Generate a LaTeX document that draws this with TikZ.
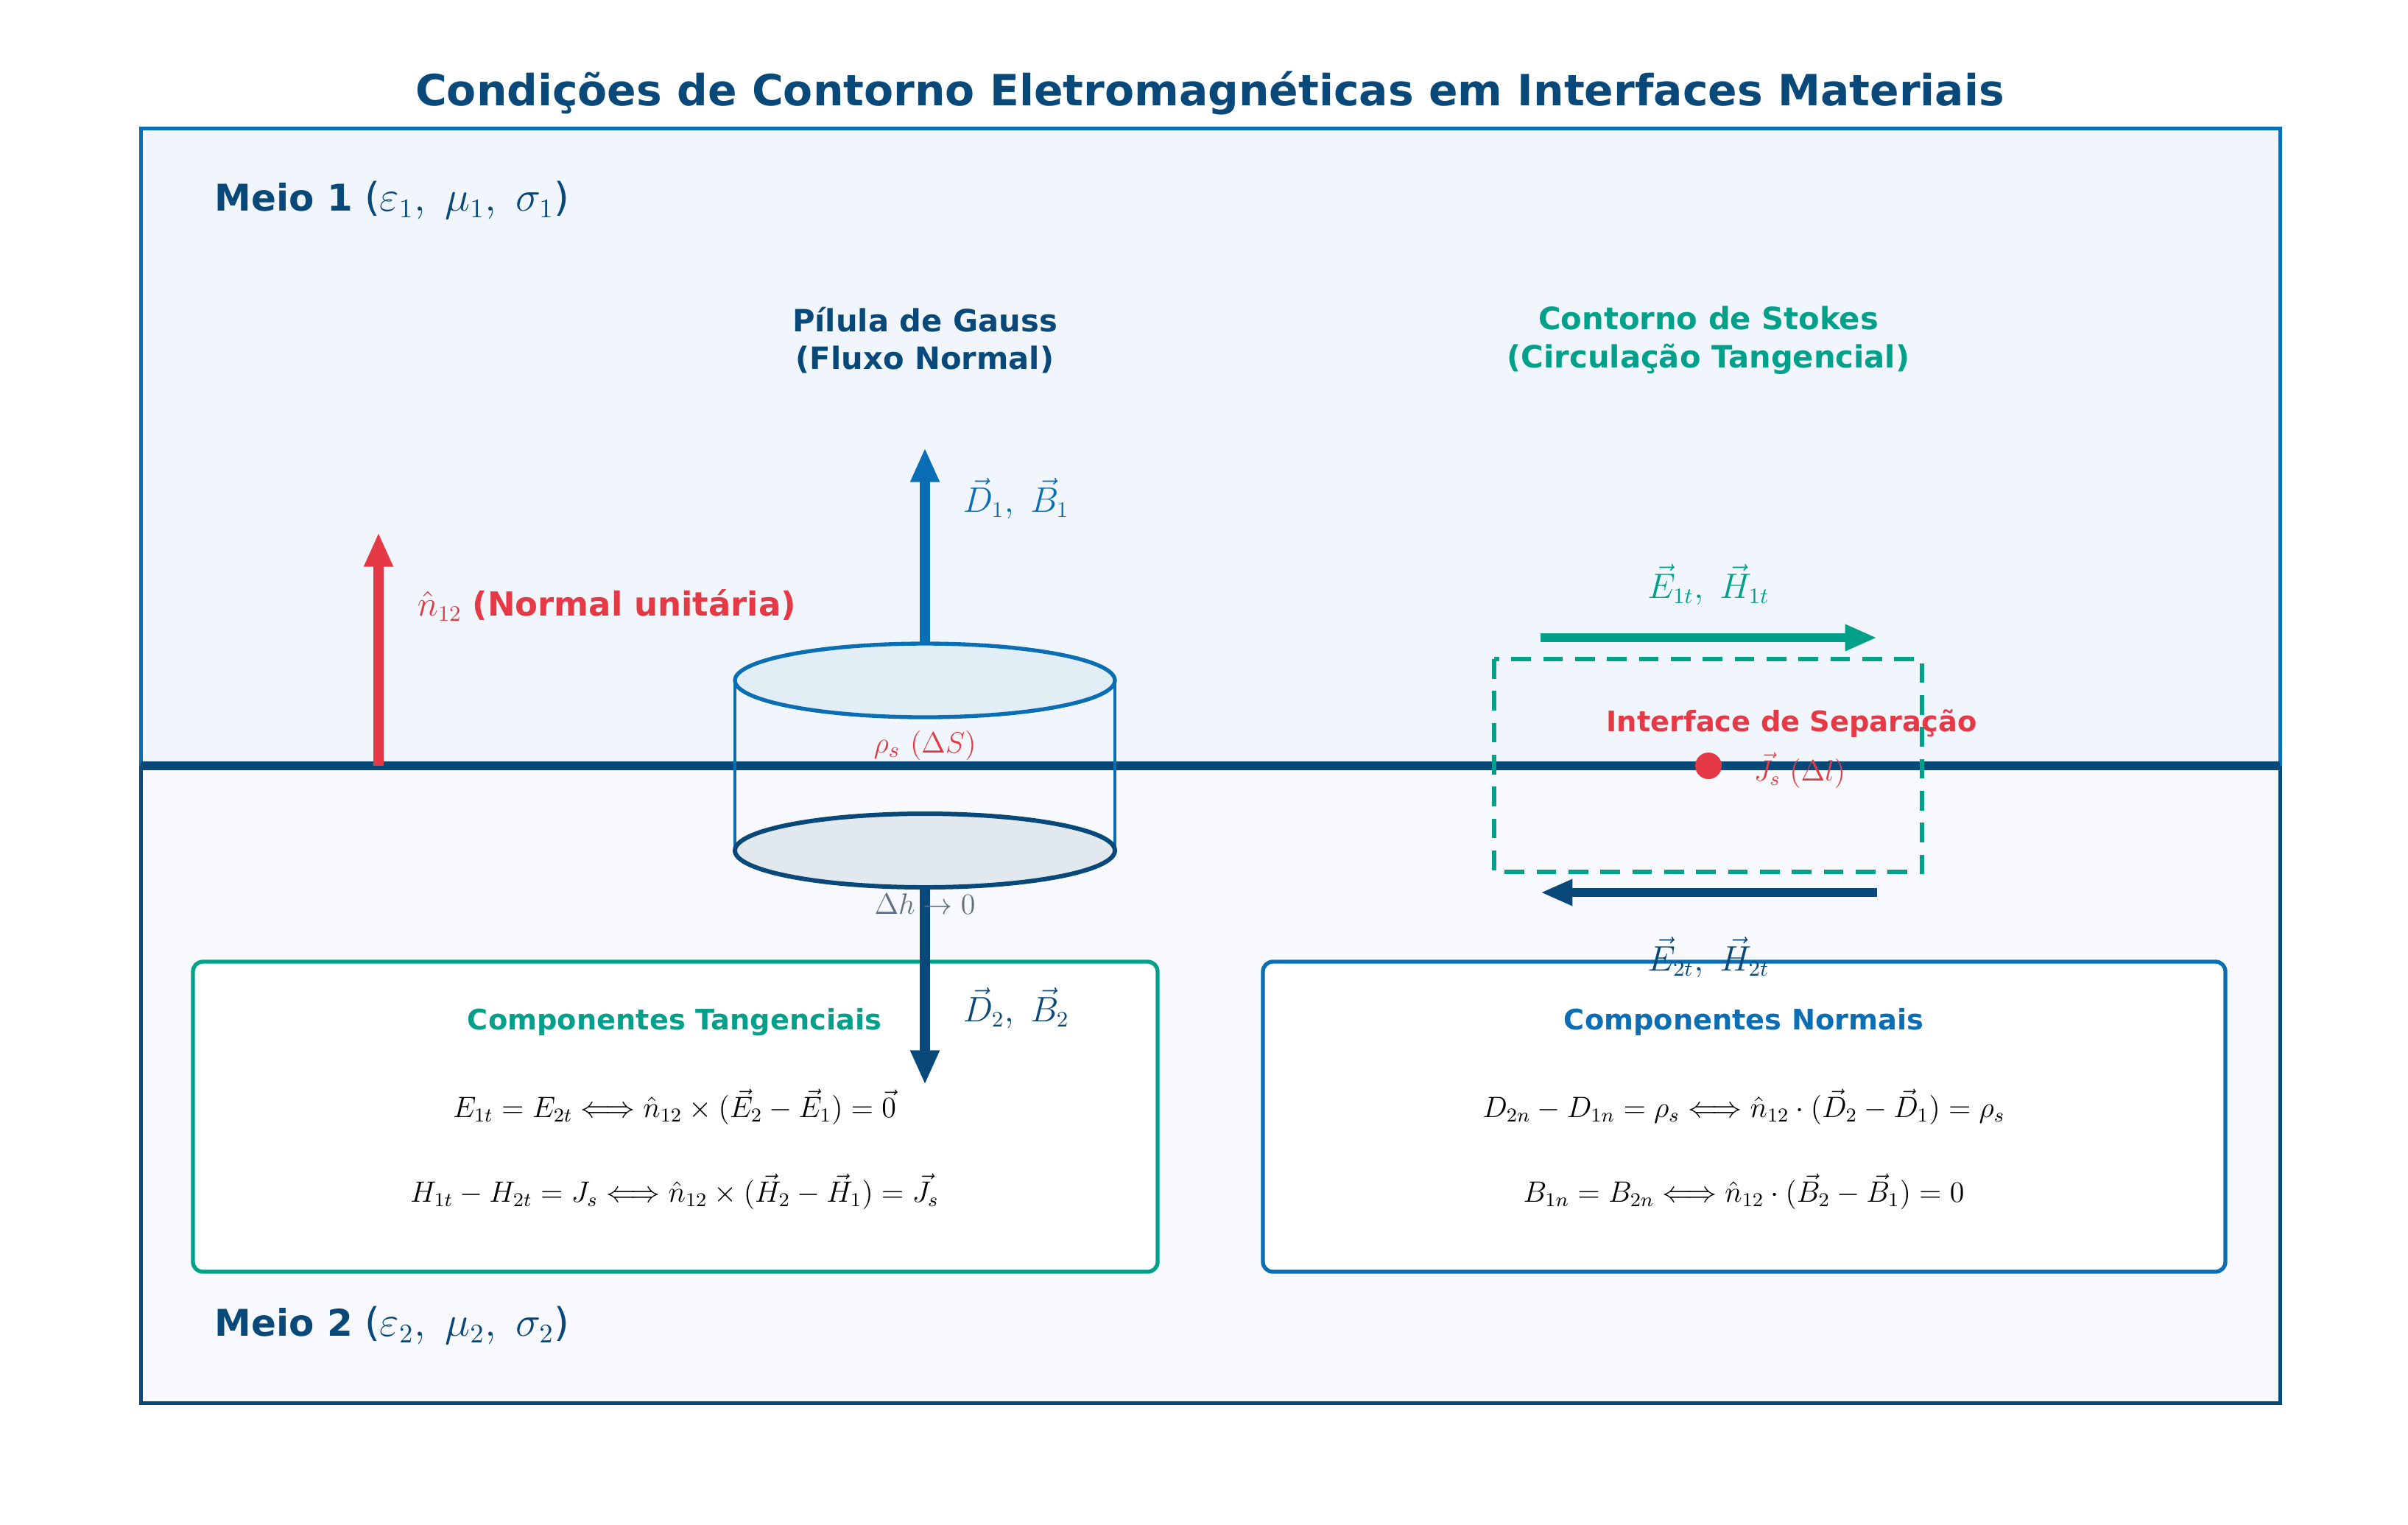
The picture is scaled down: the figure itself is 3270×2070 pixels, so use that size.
\documentclass[tikz,border=0pt]{standalone}
\usepackage{fontspec}
\setmainfont{DejaVu Sans}
\usetikzlibrary{arrows.meta}
\definecolor{dblue}{HTML}{08497A}
\definecolor{mblue}{HTML}{0A6EB4}
\definecolor{tgreen}{HTML}{00A08A}
\definecolor{tred}{HTML}{E63946}
\definecolor{tgray}{HTML}{5E6E85}
\definecolor{upfill}{HTML}{F0F6FB}
\definecolor{lofill}{HTML}{F7F9FC}
\begin{document}
\begin{tikzpicture}[x=0.3pt,y=-0.3pt,
  arr/.style={line width=4pt,-{Triangle[length=14pt,width=11pt]}},
  harr/.style={line width=3.6pt,-{Triangle[length=13pt,width=10pt]}},
  ttl/.style={font=\bfseries\fontsize{12.5}{15.5}\selectfont,align=center},
  lbl/.style={font=\fontsize{13.5}{16}\selectfont},
  eq/.style={font=\fontsize{11.5}{14}\selectfont},
  box/.style={line width=1.6pt,rounded corners=4pt,fill=white}]
\useasboundingbox (0,0) rectangle (3270,2070);
\fill[white] (0,0) rectangle (3270,2070);
\fill[upfill] (191,174) rectangle (3096,1040);
\fill[lofill] (191,1040) rectangle (3096,1905);
\draw[mblue,line width=1.5pt] (191,1040) -- (191,174) -- (3096,174) -- (3096,1040);
\draw[dblue,line width=1.5pt] (191,1040) -- (191,1905) -- (3096,1905) -- (3096,1040);
\node[font=\bfseries\fontsize{17.5}{20}\selectfont,text=dblue] (title) at (1643,126) {Condições de Contorno Eletromagnéticas em Interfaces Materiais};
\node[anchor=west,text=dblue,font=\fontsize{15}{18}\selectfont] (m1) at (280,272) {\textbf{Meio 1} \fontsize{16}{18}\selectfont($\varepsilon_1,\ \mu_1,\ \sigma_1$)};
\node[anchor=west,text=dblue,font=\fontsize{15}{18}\selectfont] (m2) at (280,1800) {\textbf{Meio 2} \fontsize{16}{18}\selectfont($\varepsilon_2,\ \mu_2,\ \sigma_2$)};
% boxes
\draw[box,draw=tgreen] (262,1306) rectangle (1572,1727);
\draw[box,draw=mblue] (1715,1306) rectangle (3022,1727);
% cylinder
\draw[mblue,line width=1.6pt,fill=mblue!12] (1256,924) ellipse [x radius=258,y radius=50];
\coordinate (il) at (191,1040); \coordinate (ir) at (3096,1040);
\draw[dblue,line width=3.6pt] (il) -- (ir);
\draw[mblue,line width=1.4pt] (998,924) -- (998,1155) (1514,924) -- (1514,1155);
\draw[dblue,line width=1.8pt,fill=dblue!12] (1256,1155) ellipse [x radius=258,y radius=50];
% normal arrow
\coordinate (n0) at (514,1040); \coordinate (n1) at (514,723);
\draw[arr,tred] (n0) -- (n1);
\node[anchor=west,lbl,text=tred] (nl) at (555,822) {$\hat{n}_{12}$ \textbf{(Normal unitária)}};
% gauss
\node[ttl,text=dblue] (gt) at (1256,462) {Pílula de Gauss\\(Fluxo Normal)};
\coordinate (u0) at (1256,874); \coordinate (u1) at (1256,608);
\draw[arr,mblue] (u0) -- (u1);
\node[anchor=west,lbl,text=mblue] (dl1) at (1296,677) {$\vec D_1,\ \vec B_1$};
\coordinate (d0) at (1256,1205); \coordinate (d1) at (1256,1473);
\draw[arr,dblue] (d0) -- (d1);
\node[anchor=west,lbl,text=dblue] (dl2) at (1296,1369) {$\vec D_2,\ \vec B_2$};
\node[text=tred,font=\fontsize{12.5}{14}\selectfont] (rho) at (1256,1012) {$\rho_s\ (\Delta S)$};
\node[text=tgray,font=\fontsize{11.5}{13}\selectfont] (dh) at (1256,1228) {$\Delta h\to 0$};
% stokes
\node[ttl,text=tgreen] (st) at (2320,462) {Contorno de Stokes\\(Circulação Tangencial)};
\draw[tgreen,line width=1.9pt,dash pattern=on 8pt off 5pt] (2029,895) rectangle (2610,1184);
\coordinate (a0) at (2092,866); \coordinate (a1) at (2549,866);
\draw[harr,tgreen] (a0) -- (a1);
\node[lbl,text=tgreen] (el1) at (2320,794) {$\vec E_{1t},\ \vec H_{1t}$};
\coordinate (b0) at (2549,1212); \coordinate (b1) at (2092,1212);
\draw[harr,dblue] (b0) -- (b1);
\node[lbl,text=dblue] (el2) at (2320,1300) {$\vec E_{2t},\ \vec H_{2t}$};
\node[text=tred,font=\bfseries\fontsize{11.5}{13}\selectfont] (ifl) at (2433,983) {Interface de Separação};
\fill[tred] (2320,1040) circle (18) node (dot) {};
\node[anchor=west,text=tred,font=\fontsize{11.5}{13}\selectfont] (js) at (2370,1046) {$\vec J_s\ (\Delta l)$};
% box contents
\node[text=tgreen,font=\bfseries\fontsize{11.5}{13}\selectfont] (tt) at (916,1388) {Componentes Tangenciais};
\node[eq] (e1) at (916,1503) {$E_{1t}=E_{2t}\Longleftrightarrow \hat n_{12}\times(\vec E_2-\vec E_1)=\vec 0$};
\node[eq] (e2) at (916,1618) {$H_{1t}-H_{2t}=J_s\Longleftrightarrow \hat n_{12}\times(\vec H_2-\vec H_1)=\vec J_s$};
\node[text=mblue,font=\bfseries\fontsize{11.5}{13}\selectfont] (nt) at (2368,1388) {Componentes Normais};
\node[eq] (e3) at (2368,1503) {$D_{2n}-D_{1n}=\rho_s\Longleftrightarrow \hat n_{12}\cdot(\vec D_2-\vec D_1)=\rho_s$};
\node[eq] (e4) at (2368,1618) {$B_{1n}=B_{2n}\Longleftrightarrow \hat n_{12}\cdot(\vec B_2-\vec B_1)=0$};
\end{tikzpicture}
\end{document}
